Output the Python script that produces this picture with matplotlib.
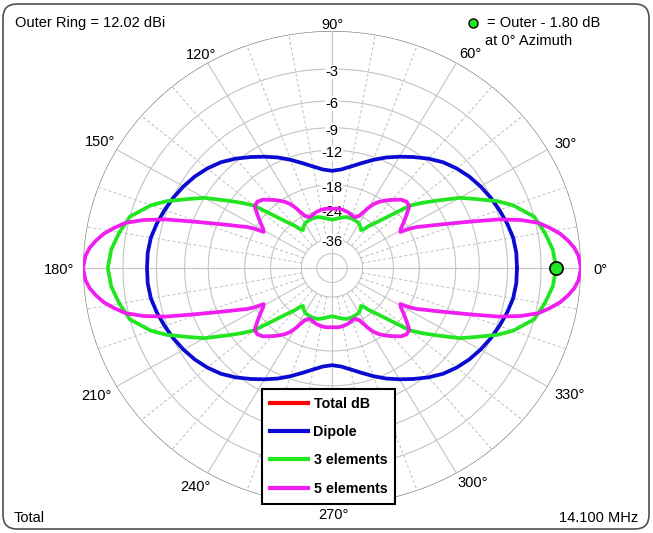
import numpy as np
import matplotlib
matplotlib.use("Agg")
import matplotlib.pyplot as plt
from matplotlib.lines import Line2D
from matplotlib.patches import FancyBboxPatch
from matplotlib.transforms import IdentityTransform

plt.rcParams['font.family'] = ['Liberation Sans', 'DejaVu Sans']

# ---------------- data (quadrant 0..90 deg, patterns symmetric about both axes) ----------------
dipole_ang = [0, 5, 10, 15, 20, 25, 30, 35, 40, 45, 50, 55, 60, 65, 70, 75, 80, 85, 90]
dipole_db = [-5.1, -5.1, -5.2, -5.45, -5.75, -6.05, -6.4, -6.8, -7.3, -7.9, -8.7, -9.6,
             -10.5, -11.4, -12.4, -13.4, -14.3, -15.0, -15.3]

el3_ang = [0, 5, 10, 15, 20, 23, 27, 30, 34, 37, 40, 42, 44, 47, 50, 52, 54, 56, 58,
           61, 65, 70, 75, 80, 85, 90]
el3_db = [-1.8, -2.0, -2.45, -3.0, -4.4, -5.6, -7.6, -9.0, -11.6, -13.4, -15.3, -17.8,
          -20.0, -22.8, -25.0, -27.0, -27.8, -27.2, -26.6, -26.1, -25.9, -25.7, -25.8,
          -26.3, -26.9, -27.3]

el5_ang = [0, 3, 5, 7, 9, 11, 13, 15, 17, 19, 21, 23, 25, 27, 28, 29, 31, 34, 37, 40,
           43, 46, 50, 53, 56, 58, 60, 62, 64, 67, 70, 75, 80, 85, 90]
el5_db = [0.0, -0.15, -0.4, -0.8, -1.3, -2.0, -2.8, -4.2, -6.1, -8.6, -10.9, -13.0, -14.9,
          -16.6, -17.8, -19.9, -19.4, -18.1, -16.8, -15.5, -15.3, -15.7, -16.8, -17.7,
          -18.7, -19.6, -21.0, -22.8, -24.3, -25.0, -24.8, -24.2, -23.8, -23.7, -23.8]

ring_db = [0, -3, -6, -9, -12, -18, -24, -36]
ring_labels = ["-3", "-6", "-9", "-12", "-18", "-24", "-36"]
angle_labels = ["0°", "30°", "60°", "90°", "120°", "150°", "180°", "210°", "240°",
                "270°", "300°", "330°"]
marker_db = -1.80
series_names = ["Total dB", "Dipole", "3 elements", "5 elements"]
series_colors = ["#ff0000", "#0a0ad2", "#22e622", "#f01ef0"]


def rscale(db):
    """ARRL log scale: 0.89 per 2 dB."""
    return 0.89 ** (-np.asarray(db, dtype=float) / 2.0)


def full_pattern(ang, db):
    a = np.asarray(ang, float)
    d = np.asarray(db, float)
    th = np.concatenate([a, 180 - a[::-1], 180 + a, 360 - a[::-1]])
    dd = np.concatenate([d, d[::-1], d, d[::-1]])
    return np.deg2rad(th), rscale(dd)


FS = 10.5
W, H = 653, 533
fig = plt.figure(figsize=(W / 100, H / 100), dpi=100)
cx, cy, rx, ry = 332, 268, 249, 237
ax = fig.add_axes([(cx - rx) / W, (H - cy - ry) / H, 2 * rx / W, 2 * ry / H],
                  projection='polar')
ax.set_aspect('auto')
ax.axis('off')
ax.set_ylim(0, 1)

# outer frame
frame = FancyBboxPatch((3, 4), W - 7, H - 8, boxstyle="round,pad=0,rounding_size=14",
                       transform=IdentityTransform(), facecolor='none',
                       edgecolor='#505050', linewidth=1.2)
fig.add_artist(frame)

# grid
tt = np.linspace(0, 2 * np.pi, 721)
for db in ring_db:
    ax.plot(tt, np.full_like(tt, rscale(db)), color='#7a7a7a' if db == 0 else '#c4c4c4',
            lw=0.9 if db == 0 else 0.8, zorder=1)
ax.plot(tt, np.full_like(tt, rscale(-48)), color='#c4c4c4', lw=0.8, zorder=1)
r_in = rscale(-36)
for deg in range(0, 360, 10):
    th = np.deg2rad(deg)
    if deg % 90 == 0:
        ax.plot([th, th], [0, 1], color='#c4c4c4', lw=0.8, zorder=1)
    elif deg % 30 == 0:
        ax.plot([th, th], [r_in, 1], color='#c4c4c4', lw=0.8, zorder=1)
    else:
        ax.plot([th, th], [r_in, 1], color='#bdbdbd', lw=0.7, ls=(0, (3, 2.5)), zorder=1)

# ring labels
for db, lab in zip(ring_db[1:], ring_labels):
    ax.annotate(lab, xy=(np.pi / 2, rscale(db)), xytext=(0, -3), textcoords='offset pixels',
                ha='center', va='center', fontsize=FS, zorder=2,
                bbox=dict(facecolor='white', edgecolor='none', pad=0.3))

# angle labels
offsets = [(19, -2), (18, 6), (14, 9), (1, 6), (-6, 8), (-16, 7), (-24, -2), (-20, -9),
           (-12, -14), (1, -10), (16, -10), (22, -8)]
for k, (lab, off) in enumerate(zip(angle_labels, offsets)):
    ax.annotate(lab, xy=(np.deg2rad(30 * k), 1.0), xytext=off, textcoords='offset pixels',
                ha='center', va='center', fontsize=FS, zorder=2)

# traces
handles = [Line2D([], [], color=series_colors[0], lw=3)]
for (ang, db), col in zip([(dipole_ang, dipole_db), (el3_ang, el3_db), (el5_ang, el5_db)],
                          series_colors[1:]):
    th, r = full_pattern(ang, db)
    ax.plot(th, r, color=col, lw=2.7, zorder=3, solid_joinstyle='round')
    handles.append(Line2D([], [], color=col, lw=3))

ax.plot([0], [rscale(marker_db)], 'o', ms=9.5, mfc='#22e622', mec='black', mew=1.2, zorder=4)

leg = ax.legend(handles, series_names, loc='upper left',
                bbox_to_anchor=(262 / W, 1 - 389 / H), bbox_transform=fig.transFigure,
                frameon=True, fancybox=False, framealpha=1, edgecolor='black',
                prop=dict(weight='bold', size=10.3), borderpad=0.55, labelspacing=1.0,
                handlelength=2.7, handletextpad=0.35, borderaxespad=0)
leg.get_frame().set_linewidth(1.5)
leg.set_zorder(5)

# corner texts
fig.text(15 / W, 1 - 23 / H, "Outer Ring = 12.02 dBi", ha='left', va='center', fontsize=FS)
fig.add_artist(Line2D([473 / W], [1 - 23 / H], marker='o', ms=6.5, mfc='#22e622',
                      mec='black', mew=1.0, transform=fig.transFigure))
fig.text(487 / W, 1 - 23 / H, "= Outer - 1.80 dB", ha='left', va='center', fontsize=FS)
fig.text(485 / W, 1 - 41 / H, "at 0° Azimuth", ha='left', va='center', fontsize=FS)
fig.text(14 / W, 1 - 518 / H, "Total", ha='left', va='center', fontsize=FS)
fig.text(638 / W, 1 - 518 / H, "14.100 MHz", ha='right', va='center', fontsize=FS)

fig.savefig("out.png", dpi=100, facecolor='white')
